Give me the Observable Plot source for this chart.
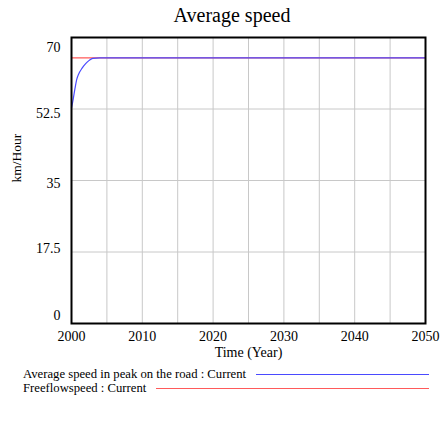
<!DOCTYPE html>
<html>
<head>
<meta charset="utf-8">
<script src="https://cdn.jsdelivr.net/npm/d3@7"></script>
<script src="https://cdn.jsdelivr.net/npm/@observablehq/plot@0.6"></script>
<style>
  body { margin: 0; background: white; font-family: "Liberation Serif", serif; }
  #title { width: 442px; height: 30px; line-height: 30px; text-align: center; font-size: 20px; padding-left: 22px; box-sizing: border-box; }
  #legend { width: 442px; box-sizing: border-box; padding: 1px 13px 0 23px; font-size: 12.7px; }
  .row { display: flex; align-items: center; height: 14px; line-height: 14px; white-space: nowrap; }
  .ln { flex: 1; margin-left: 10px; height: 0; border-top: 1.5px solid; }
</style>
</head>
<body>
<div id="title">Average speed</div>
<div id="chart"></div>
<div id="legend"></div>
<script>
const years = [2000, 2000.25, 2000.5, 2000.75, 2001, 2001.5, 2002, 2002.5, 2003, 2004, 2010, 2020, 2030, 2040, 2050];
const avgSpeed = [52.7, 55.0, 57.6, 59.8, 61.0, 62.5, 63.6, 64.4, 64.9, 65, 65, 65, 65, 65, 65];
const freeflowYears = [2000, 2050];
const freeflow = [65, 65];
const xTicks = [2000, 2010, 2020, 2030, 2040, 2050];
const xGrid = [2005, 2010, 2015, 2020, 2025, 2030, 2035, 2040, 2045];
const yTicks = [0, 17.5, 35, 52.5, 70];
const yLabelShift = [-8, -3.5, 3, 5, 10];
const seriesNames = ["Average speed in peak on the road : Current", "Freeflowspeed : Current"];
const seriesColors = ["#4a4aff", "#ff5a5a"];

const avgData = years.map((t, i) => ({t, v: avgSpeed[i]}));
const ffData = freeflowYears.map((t, i) => ({t, v: freeflow[i]}));

const chart = Plot.plot({
  width: 442, height: 336,
  marginTop: 7, marginLeft: 71, marginRight: 17, marginBottom: 43,
  x: {domain: [2000, 2050]},
  y: {domain: [0, 70]},
  style: {fontFamily: "'Liberation Serif', serif", fontSize: "14px", background: "white", color: "black"},
  marks: [
    Plot.gridX(xGrid, {stroke: "#c8c8c8", strokeOpacity: 1}),
    Plot.gridY([17.5, 35, 52.5], {stroke: "#c8c8c8", strokeOpacity: 1}),
    Plot.axisX(xTicks, {tickSize: 0, tickPadding: 8, label: null, fontSize: 14, tickFormat: d => String(d)}),
    ...yTicks.map((t, i) => Plot.axisY([t], {tickSize: 0, tickPadding: 11, label: null, fontSize: 14, dy: yLabelShift[i], tickFormat: d => String(d)})),
    Plot.line(ffData, {x: "t", y: "v", stroke: seriesColors[1], strokeWidth: 1.2}),
    Plot.line(avgData, {x: "t", y: "v", stroke: seriesColors[0], strokeWidth: 1.2, curve: "monotone-x"}),
    Plot.frame({stroke: "black", strokeWidth: 2}),
    Plot.text(["Time (Year)"], {frameAnchor: "bottom", dy: 33, fontSize: 14}),
    Plot.text(["km/Hour"], {frameAnchor: "left", dx: -55, dy: 2, rotate: -90, fontSize: 13.5})
  ]
});
document.getElementById("chart").appendChild(chart);

const legend = document.getElementById("legend");
seriesNames.forEach((name, i) => {
  const row = document.createElement("div");
  row.className = "row";
  const s = document.createElement("span");
  s.textContent = name;
  const l = document.createElement("span");
  l.className = "ln";
  l.style.borderColor = seriesColors[i];
  row.appendChild(s); row.appendChild(l);
  legend.appendChild(row);
});
</script>
</body>
</html>
